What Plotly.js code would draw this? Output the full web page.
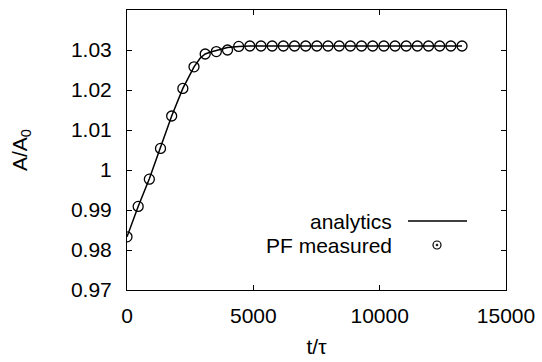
<!DOCTYPE html>
<html>
<head>
<meta charset="utf-8">
<script src="https://cdn.plot.ly/plotly-3.0.1.min.js"></script>
<style>html,body{margin:0;padding:0;background:#fff;}#chart{width:542px;height:362px;}</style>
</head>
<body>
<div id="chart"></div>
<script>
// measured points (PF measured)
const tMeasured = [0, 442, 884, 1326, 1768, 2210, 2652, 3094, 3536, 3978, 4420, 4862, 5304, 5746, 6188, 6630,
  7072, 7514, 7956, 8398, 8840, 9282, 9724, 10166, 10608, 11050, 11492, 11934, 12376, 12818, 13260];
const aMeasured = [0.9833, 0.9909, 0.9977, 1.0054, 1.0135, 1.0204, 1.0258, 1.0290, 1.0296, 1.0300, 1.0309,
  1.0310, 1.0310, 1.0310, 1.0310, 1.0310, 1.0310, 1.0310, 1.0310, 1.0310, 1.0310, 1.0310, 1.0310, 1.0310,
  1.0310, 1.0310, 1.0310, 1.0310, 1.0310, 1.0310, 1.0310];
// analytic curve
const tAnalytic = [0, 442, 884, 1326, 1768, 2210, 2652, 2900, 3094, 3315, 3536, 3757, 3978, 4420, 4862, 13260];
const aAnalytic = [0.9833, 0.9909, 0.9978, 1.0055, 1.0135, 1.0204, 1.0258, 1.0280, 1.0290, 1.0295, 1.0299,
  1.0303, 1.0306, 1.0309, 1.0310, 1.0310];
const xTickVals = [0, 5000, 10000, 15000];
const xTickText = ['0', '5000', '10000', '15000'];
const yTickVals = [0.97, 0.98, 0.99, 1.00, 1.01, 1.02, 1.03, 1.04];
const yTickText = ['0.97', '0.98', '0.99', '1', '1.01', '1.02', '1.03', '1.04'];
const legendLabels = ['analytics', 'PF measured'];

const F = 'Liberation Sans, Arial, Helvetica, sans-serif';
const FS = 21;
const traces = [
  {x: tAnalytic, y: aAnalytic, mode: 'lines', line: {color: '#000', width: 1.5}, showlegend: false},
  {x: tMeasured, y: aMeasured, mode: 'markers', showlegend: false,
   marker: {symbol: 'circle-open', size: 10, color: '#000', line: {width: 1.3, color: '#000'}}}
];
// legend geometry in paper coords
const W = 379, H = 280;
const px = v => (v - 127) / W, py = v => (290 - v) / H;
const layout = {
  width: 542, height: 362,
  margin: {l: 127, r: 36, t: 10, b: 72},
  paper_bgcolor: '#fff', plot_bgcolor: '#fff',
  font: {family: F, size: FS, color: '#000'},
  xaxis: {range: [0, 15000], tickvals: xTickVals, ticktext: xTickText, ticks: 'inside', ticklen: 5,
    tickcolor: '#000', showline: true, linecolor: '#000', linewidth: 1, mirror: 'ticks', showgrid: false,
    zeroline: false, ticklabelstandoff: 7, tickfont: {size: FS},
    title: {text: 't/τ', font: {size: FS}, standoff: 13}},
  yaxis: {range: [0.97, 1.04], tickvals: yTickVals, ticktext: yTickText, ticks: 'inside', ticklen: 5,
    tickcolor: '#000', showline: true, linecolor: '#000', linewidth: 1, mirror: 'ticks', showgrid: false,
    zeroline: false, ticklabelstandoff: 10, tickfont: {size: FS},
    title: {text: 'A/A<sub>0</sub>', font: {size: FS}, standoff: 37}},
  annotations: [
    {xref: 'paper', yref: 'paper', x: px(394), y: py(221), text: legendLabels[0], showarrow: false,
     xanchor: 'right', yanchor: 'middle', font: {size: FS}},
    {xref: 'paper', yref: 'paper', x: px(394), y: py(245), text: legendLabels[1], showarrow: false,
     xanchor: 'right', yanchor: 'middle', font: {size: FS}}
  ],
  shapes: [
    {type: 'line', xref: 'paper', yref: 'paper', x0: px(408), x1: px(467), y0: py(221), y1: py(221),
     line: {color: '#000', width: 1.5}},
    {type: 'circle', xref: 'paper', yref: 'paper', xsizemode: 'pixel', ysizemode: 'pixel',
     xanchor: px(437), yanchor: py(245), x0: -4, x1: 4, y0: -4, y1: 4, line: {color: '#000', width: 1.2}},
    {type: 'circle', xref: 'paper', yref: 'paper', xsizemode: 'pixel', ysizemode: 'pixel',
     xanchor: px(437), yanchor: py(245), x0: -1, x1: 1, y0: -1, y1: 1, fillcolor: '#000',
     line: {color: '#000', width: 0.5}}
  ]
};
Plotly.newPlot('chart', traces, layout, {displayModeBar: false, staticPlot: true});
</script>
</body>
</html>
